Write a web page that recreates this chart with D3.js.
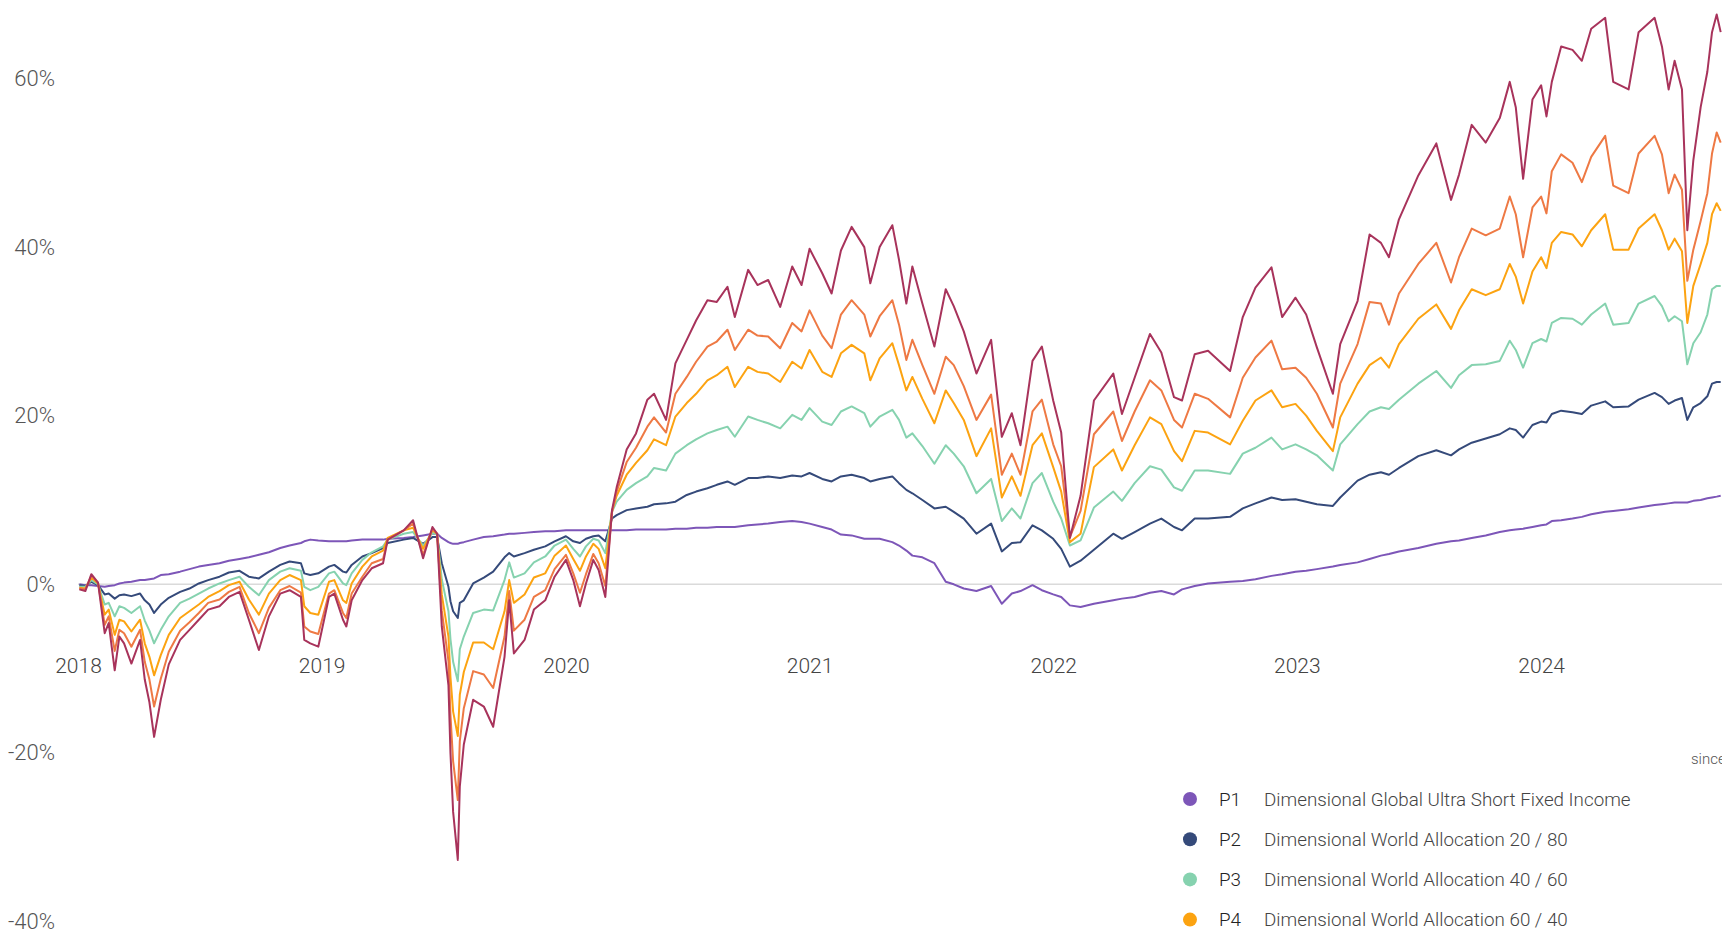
<!DOCTYPE html>
<html lang="en">
<head>
<meta charset="UTF-8">
<title>Portfolio performance</title>
<style>
  body { margin: 0; background: #fff; overflow: hidden; }
  #chart svg { display: block; font-family: Roboto, "Noto Sans", sans-serif; font-weight: 300; }
</style>
</head>
<body>
<div id="chart"></div>
<script src="https://cdnjs.cloudflare.com/ajax/libs/d3/7.8.5/d3.min.js"></script>
<script>
const dates = [
  "2018-09-03","2018-09-12","2018-09-21","2018-10-01","2018-10-11","2018-10-17","2018-10-26","2018-11-02","2018-11-09","2018-11-20",
  "2018-12-03","2018-12-10","2018-12-17","2018-12-24","2019-01-03","2019-01-15","2019-02-01","2019-02-15","2019-03-01","2019-03-15",
  "2019-04-01","2019-04-15","2019-05-01","2019-05-15","2019-05-30","2019-06-14","2019-07-01","2019-07-15","2019-08-01","2019-08-06",
  "2019-08-15","2019-08-27","2019-09-12","2019-09-20","2019-10-03","2019-10-08","2019-10-16","2019-11-01","2019-11-15","2019-12-02",
  "2019-12-09","2020-01-02","2020-01-16","2020-01-31","2020-02-14","2020-02-21","2020-02-28","2020-03-09","2020-03-12","2020-03-16",
  "2020-03-23","2020-03-26","2020-04-01","2020-04-15","2020-05-01","2020-05-15","2020-06-01","2020-06-08","2020-06-15","2020-07-01",
  "2020-07-15","2020-08-01","2020-08-15","2020-09-01","2020-09-12","2020-09-22","2020-10-01","2020-10-12","2020-10-20","2020-10-30",
  "2020-11-09","2020-11-16","2020-12-01","2020-12-15","2021-01-01","2021-01-11","2021-01-29","2021-02-12","2021-03-01","2021-03-15",
  "2021-04-01","2021-04-15","2021-05-01","2021-05-12","2021-06-01","2021-06-15","2021-07-01","2021-07-19","2021-08-06","2021-08-20",
  "2021-09-01","2021-09-20","2021-10-04","2021-10-18","2021-11-03","2021-11-22","2021-12-01","2021-12-15","2022-01-03","2022-01-13",
  "2022-01-24","2022-02-02","2022-02-17","2022-03-07","2022-03-24","2022-04-05","2022-04-20","2022-05-09","2022-05-31","2022-06-16",
  "2022-07-01","2022-07-14","2022-08-01","2022-08-15","2022-09-01","2022-09-13","2022-09-26","2022-10-12","2022-11-01","2022-11-30",
  "2022-12-13","2023-01-01","2023-01-24","2023-02-10","2023-03-01","2023-03-13","2023-04-01","2023-04-21","2023-05-24","2023-06-12",
  "2023-07-01","2023-07-25","2023-08-10","2023-08-30","2023-09-15","2023-10-01","2023-10-25","2023-11-05","2023-12-01","2023-12-19",
  "2024-01-05","2024-01-17","2024-02-01","2024-03-01","2024-03-28","2024-04-19","2024-05-01","2024-05-20","2024-06-10","2024-07-01",
  "2024-07-16","2024-07-25","2024-08-05","2024-08-19","2024-09-01","2024-09-09","2024-09-17","2024-10-01","2024-10-18","2024-11-01",
  "2024-11-15","2024-12-06","2024-12-18","2025-01-10","2025-01-25","2025-02-18","2025-03-01","2025-03-11","2025-03-20","2025-03-31",
  "2025-04-08","2025-04-17","2025-04-28","2025-05-08","2025-05-15","2025-05-22","2025-05-28"
];

// cumulative return in %, one value per date
const p1 = [
  0.0,-0.1,-0.1,-0.2,-0.3,-0.2,-0.1,0.1,0.2,0.3,
  0.5,0.5,0.6,0.7,1.1,1.2,1.5,1.8,2.1,2.3,
  2.5,2.8,3.0,3.2,3.5,3.8,4.3,4.6,4.9,5.1,
  5.3,5.2,5.1,5.1,5.1,5.1,5.2,5.3,5.3,5.3,
  5.4,5.5,5.6,5.8,6.0,6.0,5.5,5.0,4.9,4.8,
  4.8,4.9,5.0,5.3,5.6,5.7,5.9,6.0,6.0,6.1,
  6.2,6.3,6.3,6.4,6.4,6.4,6.4,6.4,6.4,6.4,
  6.4,6.4,6.4,6.5,6.5,6.5,6.5,6.6,6.6,6.7,
  6.7,6.8,6.8,6.8,7.0,7.1,7.2,7.4,7.5,7.4,
  7.2,6.8,6.5,5.9,5.8,5.4,5.4,5.4,5.0,4.6,
  4.0,3.4,3.2,2.5,0.3,0.0,-0.5,-0.8,-0.2,-2.3,
  -1.1,-0.8,-0.1,-0.7,-1.2,-1.5,-2.5,-2.7,-2.3,-1.9,
  -1.7,-1.5,-1.0,-0.8,-1.2,-0.6,-0.2,0.1,0.3,0.4,
  0.6,1.0,1.2,1.5,1.6,1.8,2.1,2.3,2.6,3.0,
  3.4,3.6,3.9,4.3,4.8,5.1,5.2,5.5,5.8,6.2,
  6.4,6.5,6.6,6.8,7.0,7.1,7.5,7.6,7.8,8.0,
  8.3,8.6,8.7,8.9,9.1,9.4,9.5,9.6,9.7,9.7,
  9.7,9.9,10.0,10.2,10.3,10.4,10.5
];
const p2 = [
  -0.1,-0.2,0.3,-0.1,-1.2,-1.1,-1.7,-1.3,-1.2,-1.4,
  -1.1,-1.9,-2.4,-3.4,-2.4,-1.6,-0.9,-0.5,0.1,0.5,
  0.9,1.4,1.6,0.9,0.7,1.5,2.3,2.7,2.5,1.3,
  1.1,1.3,2.1,2.3,1.5,1.4,2.3,3.3,3.7,4.3,
  4.9,5.3,5.5,4.8,5.6,5.6,2.5,-0.3,-2.0,-3.2,
  -4.0,-2.2,-1.9,0.1,0.8,1.5,3.2,3.7,3.3,3.7,
  4.1,4.5,5.1,5.7,5.1,4.9,5.4,5.7,5.8,5.1,
  7.8,8.2,8.8,9.0,9.2,9.5,9.6,9.8,10.6,11.0,
  11.4,11.8,12.2,11.8,12.6,12.6,12.8,12.6,12.9,12.8,
  13.2,12.5,12.2,12.8,13.0,12.6,12.2,12.5,12.8,12.0,
  11.2,10.8,10.0,9.0,9.2,8.6,7.8,6.0,7.2,3.9,
  4.9,5.0,7.0,6.4,5.4,4.2,2.1,2.8,4.1,6.0,
  5.4,6.2,7.2,7.8,6.8,6.4,7.8,7.8,8.0,9.0,
  9.6,10.3,10.0,10.1,9.8,9.5,9.3,10.3,12.3,13.0,
  13.3,13.0,13.8,15.2,15.9,15.3,16.0,16.8,17.3,17.8,
  18.5,18.3,17.4,18.9,19.3,19.2,20.2,20.6,20.4,20.2,
  21.2,21.7,21.0,21.1,21.9,22.7,22.2,21.4,21.8,22.1,
  19.5,21.0,21.5,22.3,23.8,24.0,24.0
];
const p3 = [
  -0.3,-0.3,0.5,0.0,-2.4,-2.2,-3.8,-2.6,-2.8,-3.4,
  -2.6,-4.3,-5.5,-7.0,-5.4,-3.8,-2.2,-1.7,-1.1,-0.5,
  0.1,0.5,0.9,-0.3,-1.3,0.5,1.5,1.9,1.6,-0.3,
  -0.7,-0.3,1.3,1.5,0.1,-0.1,1.3,2.9,3.8,4.5,
  5.3,6.0,6.2,4.6,6.1,5.9,0.6,-3.2,-6.5,-9.2,
  -11.5,-7.7,-6.2,-3.4,-3.0,-3.1,0.5,2.6,0.8,1.3,
  2.6,3.3,4.6,5.3,4.2,3.3,4.5,5.4,5.2,3.7,
  8.6,9.8,11.2,12.0,12.8,13.8,13.5,15.5,16.5,17.2,
  17.9,18.3,18.7,17.5,19.9,19.5,19.1,18.5,20.1,19.5,
  20.9,19.3,18.9,20.5,21.1,20.3,18.7,19.9,20.7,19.5,
  17.4,17.9,16.4,14.3,16.5,15.5,14.0,10.8,12.5,7.5,
  9.0,7.8,12.0,13.2,9.8,7.8,4.6,5.2,9.1,11.0,
  9.9,12.0,14.0,13.6,11.5,11.1,13.5,13.5,13.1,15.5,
  16.2,17.4,16.0,16.6,16.0,15.3,13.5,16.6,19.0,20.5,
  21.0,20.8,21.9,23.8,25.3,23.3,24.8,26.0,26.1,26.5,
  28.9,27.8,25.7,28.6,29.1,28.8,31.0,31.6,31.5,30.8,
  32.0,33.3,30.8,31.0,33.3,34.2,33.0,31.2,31.8,31.2,
  26.1,28.6,29.9,32.0,35.0,35.4,35.4
];
const p4 = [
  -0.4,-0.5,0.8,0.1,-3.6,-3.0,-6.0,-4.2,-4.4,-5.6,
  -4.2,-7.0,-8.6,-10.8,-8.4,-6.0,-4.0,-3.2,-2.4,-1.5,
  -0.8,-0.1,0.3,-1.8,-3.6,-1.1,0.5,1.1,0.5,-2.6,
  -3.4,-3.6,0.3,0.5,-1.9,-2.2,0.1,2.1,3.3,4.0,
  5.5,6.4,6.7,4.2,6.4,6.0,-1.2,-6.2,-11.0,-15.1,
  -18.0,-13.1,-10.4,-6.9,-6.9,-7.7,-3.2,0.5,-2.2,-1.2,
  0.8,1.3,3.4,4.6,3.0,1.6,3.3,4.8,4.2,1.9,
  8.7,10.5,13.0,14.4,15.9,17.2,16.5,19.9,21.5,22.6,
  24.2,24.8,25.8,23.4,25.8,25.2,25.0,24.0,26.4,25.6,
  27.8,25.2,24.6,27.4,28.4,27.4,24.2,26.8,28.6,26.0,
  23.0,24.6,22.0,19.1,23.0,21.5,19.5,15.2,18.5,10.3,
  12.8,10.5,16.5,17.9,13.9,11.0,5.0,6.0,13.9,16.0,
  13.5,16.5,19.8,19.0,15.8,14.6,18.2,18.0,16.6,19.4,
  21.8,23.0,21.0,21.4,20.0,18.2,15.8,19.8,23.8,26.0,
  26.9,25.7,28.5,31.5,33.2,30.3,32.5,35.0,34.3,35.0,
  38.0,36.5,33.3,37.1,38.8,37.5,40.5,41.8,41.5,40.1,
  42.0,43.9,39.7,39.7,42.2,43.9,42.0,39.7,41.0,39.5,
  31.0,35.4,38.0,40.5,43.9,45.2,44.3
];
const p5 = [
  -0.5,-0.6,1.0,0.2,-4.8,-3.8,-7.9,-5.4,-5.8,-7.4,
  -5.4,-9.2,-11.3,-14.5,-11.2,-8.0,-5.5,-4.5,-3.4,-2.2,
  -1.8,-0.9,-0.3,-3.4,-5.8,-2.8,-0.7,-0.2,-1.0,-5.0,
  -5.6,-5.9,-1.1,-0.7,-3.4,-4.0,-1.1,0.9,2.5,3.0,
  5.3,6.4,7.2,3.5,6.6,6.0,-3.1,-9.1,-15.5,-21.0,
  -25.6,-18.6,-14.7,-10.3,-10.7,-12.3,-6.2,-0.8,-5.5,-4.2,
  -1.5,-0.7,1.8,3.5,1.3,-1.0,1.2,3.6,2.5,-0.2,
  8.5,11.0,14.5,16.2,18.7,19.8,18.0,22.6,24.6,26.4,
  28.2,28.8,30.2,27.8,30.2,29.5,29.4,28.0,31.0,30.0,
  32.5,29.5,28.0,32.0,33.7,32.0,29.4,31.8,33.7,30.8,
  26.6,29.0,26.0,22.6,27.0,26.0,23.5,19.5,22.5,13.0,
  15.5,13.0,20.5,21.9,16.6,14.0,5.6,8.7,17.8,20.5,
  17.0,20.5,24.2,23.0,19.5,18.6,22.6,22.0,19.8,24.5,
  26.9,28.9,25.5,25.7,24.5,22.6,18.6,23.8,28.5,33.5,
  33.3,30.8,34.5,38.0,40.5,35.8,38.8,42.2,41.4,42.2,
  46.0,43.9,38.8,44.7,46.0,44.0,49.0,51.0,50.0,47.7,
  50.7,53.2,47.3,46.4,51.1,53.2,51.0,46.4,48.6,46.8,
  36.0,39.7,43.1,46.4,51.1,53.6,52.4
];
const p6 = [
  -0.6,-0.8,1.2,0.2,-5.8,-4.6,-10.2,-6.2,-7.0,-9.4,
  -6.6,-11.3,-14.0,-18.1,-13.7,-9.5,-6.6,-5.4,-4.2,-3.0,
  -2.6,-1.5,-0.9,-4.2,-7.8,-3.8,-1.1,-0.7,-1.5,-6.6,
  -7.0,-7.4,-1.5,-1.1,-4.2,-5.0,-1.9,0.5,1.9,2.5,
  5.3,6.4,7.6,3.1,6.8,6.0,-5.0,-12.0,-20.0,-27.0,
  -32.7,-24.0,-19.0,-13.7,-14.5,-16.9,-8.6,-1.9,-8.2,-6.6,
  -3.0,-1.9,0.9,2.9,0.5,-2.6,0.1,2.9,1.7,-1.5,
  8.8,11.5,16.0,17.9,21.9,22.6,19.5,26.2,29.0,31.3,
  33.7,33.5,35.3,31.7,37.3,35.5,36.1,32.9,37.7,35.5,
  39.8,36.9,34.5,39.6,42.4,40.0,35.7,40.0,42.6,38.5,
  33.3,37.7,33.3,28.2,35.0,33.0,30.0,25.0,29.0,17.5,
  20.3,16.5,26.5,28.2,21.8,18.0,5.5,10.5,21.8,25.0,
  20.2,24.5,29.7,27.5,22.2,21.8,27.3,27.7,25.3,31.7,
  35.2,37.6,31.7,34.0,32.0,28.1,22.6,28.5,33.6,41.5,
  40.5,38.8,43.3,48.5,52.3,45.6,48.6,54.5,52.4,55.3,
  59.6,56.6,48.1,57.5,59.2,55.5,59.6,63.8,63.4,62.1,
  65.9,67.2,59.6,58.7,65.5,67.2,63.8,58.7,62.1,58.7,
  42.0,50.3,56.6,60.8,65.5,67.6,65.5
];

const codes = ["P1", "P2", "P3", "P4", "P5", "P6"];
const legendNames = [
  "Dimensional Global Ultra Short Fixed Income",
  "Dimensional World Allocation 20 / 80",
  "Dimensional World Allocation 40 / 60",
  "Dimensional World Allocation 60 / 40"
];
const colors = ["#7d56b8", "#354a7a", "#86d2af", "#fca311", "#ee7944", "#a8335b"];
const yTicks = [60, 40, 20, 0, -20, -40];
const xTickYears = [2018, 2019, 2020, 2021, 2022, 2023, 2024];

const width = 1722, height = 935;
const parse = d3.timeParse("%Y-%m-%d");
const allSeries = [p1, p2, p3, p4, p5, p6].map((vals, i) => ({
  code: codes[i],
  color: colors[i],
  values: dates.map((d, j) => ({ date: parse(d), v: vals[j] }))
}));

const svg = d3.select("#chart")
  .append("svg")
  .attr("width", width)
  .attr("height", height);

// one year ~ 243.8 px, the axis starts on 1 Sep 2018
const x = d3.scaleTime()
  .domain([new Date(2018, 8, 1), new Date(2025, 5, 1)])
  .range([78, 78 + 2465 * 243.8 / 365.25]);

const y = d3.scaleLinear()
  .domain([-40, 60])
  .range([921.5, 78.5]);

// zero line
svg.append("line")
  .attr("x1", 78).attr("x2", width)
  .attr("y1", y(0)).attr("y2", y(0))
  .attr("stroke", "#dadada")
  .attr("stroke-width", 1.5);

const yAxis = svg.append("g")
  .attr("transform", "translate(55,0)")
  .call(d3.axisLeft(y).tickValues(yTicks).tickSize(0).tickPadding(0)
    .tickFormat(d => d + "%"));
yAxis.select(".domain").remove();
yAxis.selectAll("text")
  .attr("font-size", 22)
  .attr("fill", "#555")
  .attr("font-family", "Roboto, sans-serif");

const xAxis = svg.append("g")
  .attr("transform", "translate(0,658)")
  .call(d3.axisBottom(x)
    .tickValues(xTickYears.map(yr => new Date(yr, 8, 1)))
    .tickSize(0).tickPadding(0)
    .tickFormat(d3.timeFormat("%Y")));
xAxis.select(".domain").remove();
xAxis.selectAll("text")
  .attr("font-size", 21)
  .attr("fill", "#444")
  .attr("font-family", "Roboto, sans-serif");

const line = d3.line()
  .x(d => x(d.date))
  .y(d => y(d.v));

svg.append("g")
  .selectAll("path")
  .data(allSeries)
  .join("path")
  .attr("d", d => line(d.values))
  .attr("fill", "none")
  .attr("stroke", d => d.color)
  .attr("stroke-width", 2)
  .attr("stroke-linejoin", "round");

// legend (only the first four entries fit on the page)
const legend = svg.append("g")
  .attr("font-size", 18.8);

const item = legend.selectAll("g")
  .data(legendNames)
  .join("g")
  .attr("transform", (d, i) => `translate(1190,${799 + i * 40.2})`);

item.append("circle")
  .attr("r", 7)
  .attr("fill", (d, i) => colors[i]);

item.append("text")
  .attr("x", 29)
  .attr("dy", "0.35em")
  .attr("fill", "#222")
  .text((d, i) => codes[i]);

item.append("text")
  .attr("x", 74)
  .attr("dy", "0.35em")
  .attr("fill", "#444")
  .text(d => d);

svg.append("text")
  .attr("x", 1691)
  .attr("y", 759)
  .attr("dy", "0.35em")
  .attr("font-size", 15)
  .attr("fill", "#555")
  .text("since");
</script>
</body>
</html>
